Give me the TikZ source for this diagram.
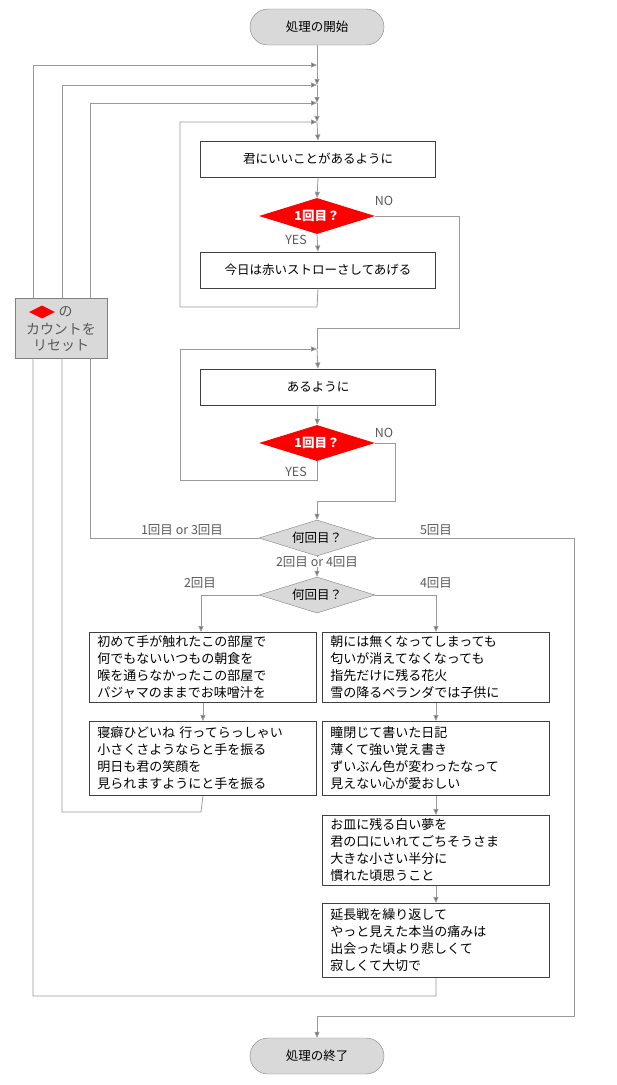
\documentclass[tikz,border=0pt]{standalone}
\usepackage{fontspec}
\setmainfont{Noto Sans CJK JP}
\usetikzlibrary{shapes.geometric,arrows.meta}
\definecolor{fillg}{HTML}{D9D9D9}
\definecolor{lineg}{HTML}{9A9A9A}
\definecolor{labg}{HTML}{595959}
\begin{document}
\begin{tikzpicture}[x=1pt,y=-1pt,
  term/.style={draw=gray,fill=fillg,rounded corners=18pt,minimum width=134pt,minimum height=36pt,font=\fontsize{12.5}{14}\selectfont},
  proc/.style={draw=black!75,line width=0.9pt,minimum width=235pt,minimum height=36pt,font=\fontsize{12.5}{14}\selectfont},
  lyric/.style={draw=black!75,line width=0.9pt,text width=211pt,inner xsep=8pt,align=left,font=\fontsize{13}{17}\selectfont,anchor=north west},
  red/.style={diamond,aspect=3.2,fill=red,inner sep=1pt,minimum width=116pt,minimum height=36pt,text=white,font=\bfseries\fontsize{12.5}{14}\selectfont},
  gdia/.style={diamond,aspect=3.2,draw=gray,fill=fillg,inner sep=1pt,minimum width=116pt,minimum height=36pt,font=\fontsize{12.5}{14}\selectfont},
  ln/.style={draw=lineg,line width=0.8pt},
  ar/.style={ln,-{Triangle[length=6pt,width=5pt,fill=gray!90!black]}},
  lab/.style={text=labg,font=\fontsize{12.5}{14}\selectfont}]
\useasboundingbox (0,0) rectangle (617,1085);
\node[term] (start) at (317,27) {処理の開始};
\node[proc] (b1) at (318,159) {君にいいことがあるように};
\node[red] (d1) at (317,216) {1回目？};
\node[proc] (b2) at (318,270) {今日は赤いストローさしてあげる};
\node[proc] (b3) at (318,387) {あるように};
\node[red] (d2) at (317,443) {1回目？};
\node[gdia] (d3) at (317,538) {何回目？};
\node[gdia] (d4) at (317,595) {何回目？};
\node[lyric,minimum height=70pt] (a1) at (89,632) {初めて手が触れたこの部屋で\\何でもないいつもの朝食を\\喉を通らなかったこの部屋で\\パジャマのままでお味噌汁を};
\node[lyric,minimum height=74pt] (a2) at (89,721) {寝癖ひどいね 行ってらっしゃい\\小さくさようならと手を振る\\明日も君の笑顔を\\見られますようにと手を振る};
\node[lyric,minimum height=70pt] (c1) at (322,632) {朝には無くなってしまっても\\匂いが消えてなくなっても\\指先だけに残る花火\\雪の降るベランダでは子供に};
\node[lyric,minimum height=74pt] (c2) at (322,721) {瞳閉じて書いた日記\\薄くて強い覚え書き\\ずいぶん色が変わったなって\\見えない心が愛おしい};
\node[lyric,minimum height=69pt] (c3) at (322,815) {お皿に残る白い夢を\\君の口にいれてごちそうさま\\大きな小さい半分に\\慣れた頃思うこと};
\node[lyric,minimum height=74pt] (c4) at (322,903) {延長戦を繰り返して\\やっと見えた本当の痛みは\\出会った頃より悲しくて\\寂しくて大切で};
\node[term] (end) at (317,1056) {処理の終了};
\node[draw=gray,fill=fillg,minimum width=92pt,minimum height=60pt] (reset) at (61,328) {};
\node[diamond,aspect=2,fill=red,minimum width=26pt,minimum height=13pt,inner sep=0pt] (rd) at (42,312) {};
\node[lab,anchor=west,font=\fontsize{14}{16}\selectfont] (rno) at (rd.east) {の};
\node[lab,align=center,font=\fontsize{14}{16}\selectfont] (rtx) at (61,337) {カウントを\\リセット};
% main line merges
\coordinate (m1) at (317,65); \coordinate (m2) at (317,85);
\coordinate (m3) at (317,103); \coordinate (m4) at (317,122);
\draw[ln] (start.south) -- (m1);
\draw[ar] (m1) -- (m2); \draw[ar] (m2) -- (m3); \draw[ar] (m3) -- (m4);
\draw[ar] (m4) -- (b1.north);
\draw[ar] (33,298) -- (33,65) -- (m1);
\draw[ar] (62,298) -- (62,85) -- (m2);
\draw[ar] (90,298) -- (90,103) -- (m3);
\draw[ar] (b2.south) -- (317,307) -- (180,307) -- (180,122) -- (m4);
\draw[ar] (b1.south) -- (d1.north);
\draw[ar] (d1.south) -- (b2.north);
\node[lab] at (296,240) {YES};
\node[lab] at (384,201) {NO};
\coordinate (m5) at (317,349);
\draw[ln] (d1.east) -- (459,216) -- (459,328) -- (317,328) -- (m5);
\draw[ar] (m5) -- (b3.north);
\draw[ar] (d2.south) -- (317,480) -- (180,480) -- (180,349) -- (m5);
\draw[ar] (b3.south) -- (d2.north);
\node[lab] at (296,472) {YES};
\node[lab] at (384,433) {NO};
\draw[ar] (d2.east) -- (395,443) -- (395,501) -- (317,501) -- (d3.north);
% d3
\draw[ln] (d3.west) -- (90,538) -- (90,358);
\node[lab] at (182,530) {1回目 or 3回目};
\draw[ar] (d3.east) -- (574,538) -- (574,1016) -- (317,1016) -- (end.north);
\node[lab] at (436,530) {5回目};
\draw[ar] (d3.south) -- (d4.north);
\node[lab,fill=white,inner sep=0pt] at (317,562) {2回目 or 4回目};
\draw[ar] (d4.west) -- (201,595) -- (201,632);
\node[lab] at (200,583) {2回目};
\draw[ar] (d4.east) -- (436,595) -- (436,632);
\node[lab] at (436,583) {4回目};
\draw[ar] (a1.south) -- (a2.north);
\draw[ln] (a2.south) -- (201,812) -- (62,812) -- (62,358);
\draw[ar] (c1.south) -- (c2.north);
\draw[ar] (c2.south) -- (c3.north);
\draw[ar] (c3.south) -- (c4.north);
\draw[ln] (c4.south) -- (436,996) -- (33,996) -- (33,358);
\end{tikzpicture}
\end{document}
